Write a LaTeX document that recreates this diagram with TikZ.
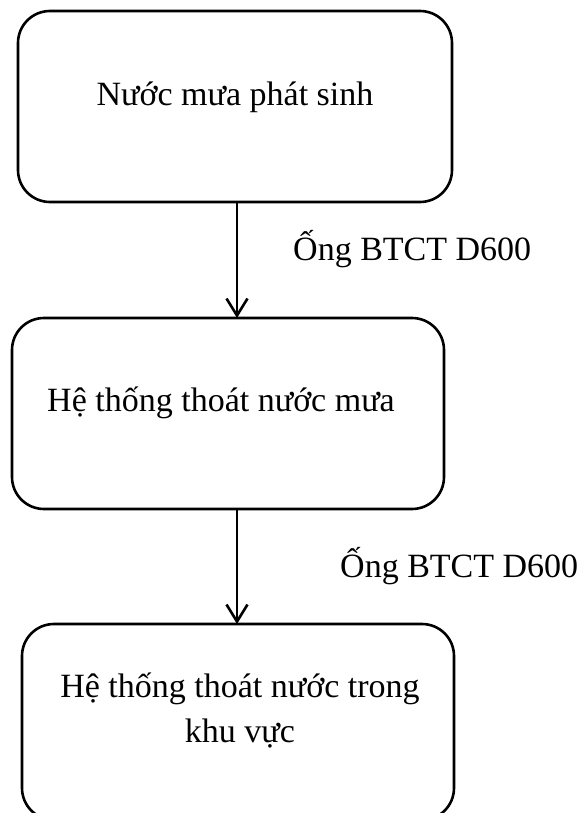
\documentclass[tikz,border=0pt]{standalone}
\usepackage{fontspec}
\setmainfont{Liberation Serif}
\usetikzlibrary{arrows.meta}
\begin{document}
\begin{tikzpicture}[x=1pt,y=1pt,
  flowbox/.style={draw=black, line width=2.6pt, rounded corners=32pt, rectangle, inner sep=0pt},
  boxtext/.style={font=\fontsize{34}{45}\selectfont, align=center, inner sep=0pt},
  pipelabel/.style={font=\fontsize{34}{40}\selectfont, inner sep=0pt, anchor=base west},
  flowarrow/.style={draw=black, line width=2.6pt, -{Straight Barb[length=17pt, width=21pt, line width=2.6pt]}}
]
\useasboundingbox (0,0) rectangle (583,-813);
\node[flowbox, minimum width=434pt, minimum height=191pt] (b1) at (235,-106.5) {};
\node[flowbox, minimum width=432pt, minimum height=191pt] (b2) at (228,-413.5) {};
\node[flowbox, minimum width=432pt, minimum height=196pt] (b3) at (238,-722) {};
\node[boxtext] (t1) at (235,-97) {Nước mưa phát sinh};
\node[boxtext] (t2) at (221,-403) {Hệ thống thoát nước mưa};
\node[boxtext] (t3) at (240,-710) {Hệ thống thoát nước trong\\khu vực};
\coordinate (a1s) at (237,-202);
\coordinate (a1e) at (237,-318);
\coordinate (a2s) at (237,-509);
\coordinate (a2e) at (237,-624);
\draw[flowarrow] (a1s) -- (a1e);
\draw[flowarrow] (a2s) -- (a2e);
\node[pipelabel] (l1) at (293,-260) {Ống BTCT D600};
\node[pipelabel] (l2) at (340,-577) {Ống BTCT D600};
\end{tikzpicture}
\end{document}
